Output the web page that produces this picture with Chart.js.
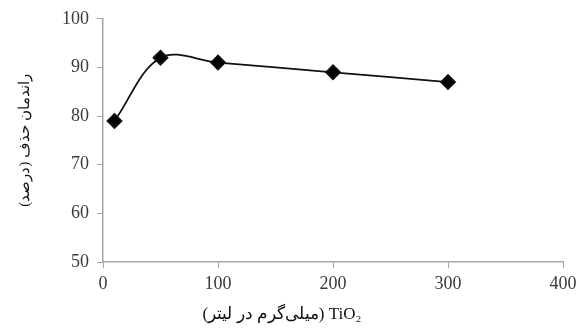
<!DOCTYPE html>
<html>
<head>
<meta charset="utf-8">
<script src="https://cdn.jsdelivr.net/npm/chart.js@4"></script>
<style>
  html, body { margin: 0; padding: 0; background: #fff; }
  #wrap { width: 586px; height: 329px; }
</style>
</head>
<body>
<div id="wrap"><canvas id="removalChart" width="586" height="329"></canvas></div>
<script>
// TiO2 dose (mg/L) and removal efficiency (%)
const doses = [10, 50, 100, 200, 300];
const removal = [79, 92, 91, 89, 87];
const xTicks = [0, 100, 200, 300, 400];
const yTicks = [50, 60, 70, 80, 90, 100];

const axisGray = "#a6a6a6";
const serif = "'Liberation Serif', 'Times New Roman', serif";

const ctx = document.getElementById("removalChart").getContext("2d");
new Chart(ctx, {
    type: "line",
    data: {
        datasets: [{
            data: doses.map((d, i) => ({ x: d, y: removal[i] })),
            borderColor: "#111",
            backgroundColor: "#000",
            borderWidth: 1.8,
            tension: 0.35,
            pointStyle: "rectRot",
            pointRadius: 7,
            pointHoverRadius: 7,
            fill: false
        }]
    },
    options: {
        responsive: false,
        animation: false,
        layout: { padding: { left: 0, right: 23, top: 18, bottom: 0 } },
        plugins: { legend: { display: false }, tooltip: { enabled: false } },
        scales: {
            x: {
                type: "linear",
                min: 0,
                max: 400,
                afterBuildTicks: s => { s.ticks = xTicks.map(v => ({ value: v })); },
                afterFit: s => { s.height = 67; },
                grid: { drawOnChartArea: false, color: axisGray, tickLength: 6 },
                border: { color: axisGray, width: 1.5 },
                ticks: { color: "#3a3a3a", font: { family: serif, size: 18 }, padding: 5 },
                title: {
                    display: true,
                    // trailing em spaces push the title left, as in the original
                    text: "(میلی‌گرم در لیتر) TiO₂\u2003\u2003\u2003\u2003\u2003\u2003",
                    color: "#111",
                    font: { family: serif, size: 17 },
                    padding: { top: 8 }
                }
            },
            y: {
                min: 50,
                max: 100,
                afterBuildTicks: s => { s.ticks = yTicks.map(v => ({ value: v })); },
                afterFit: s => { s.width = 103; },
                grid: { drawOnChartArea: false, color: axisGray, tickLength: 6 },
                border: { color: axisGray, width: 1.5 },
                ticks: { color: "#3a3a3a", font: { family: serif, size: 18 }, padding: 8 },
                title: {
                    display: true,
                    text: "راندمان حذف (درصد)",
                    color: "#111",
                    font: { family: serif, size: 15 },
                    padding: { top: 16, bottom: 0 }
                }
            }
        }
    }
});
</script>
</body>
</html>
